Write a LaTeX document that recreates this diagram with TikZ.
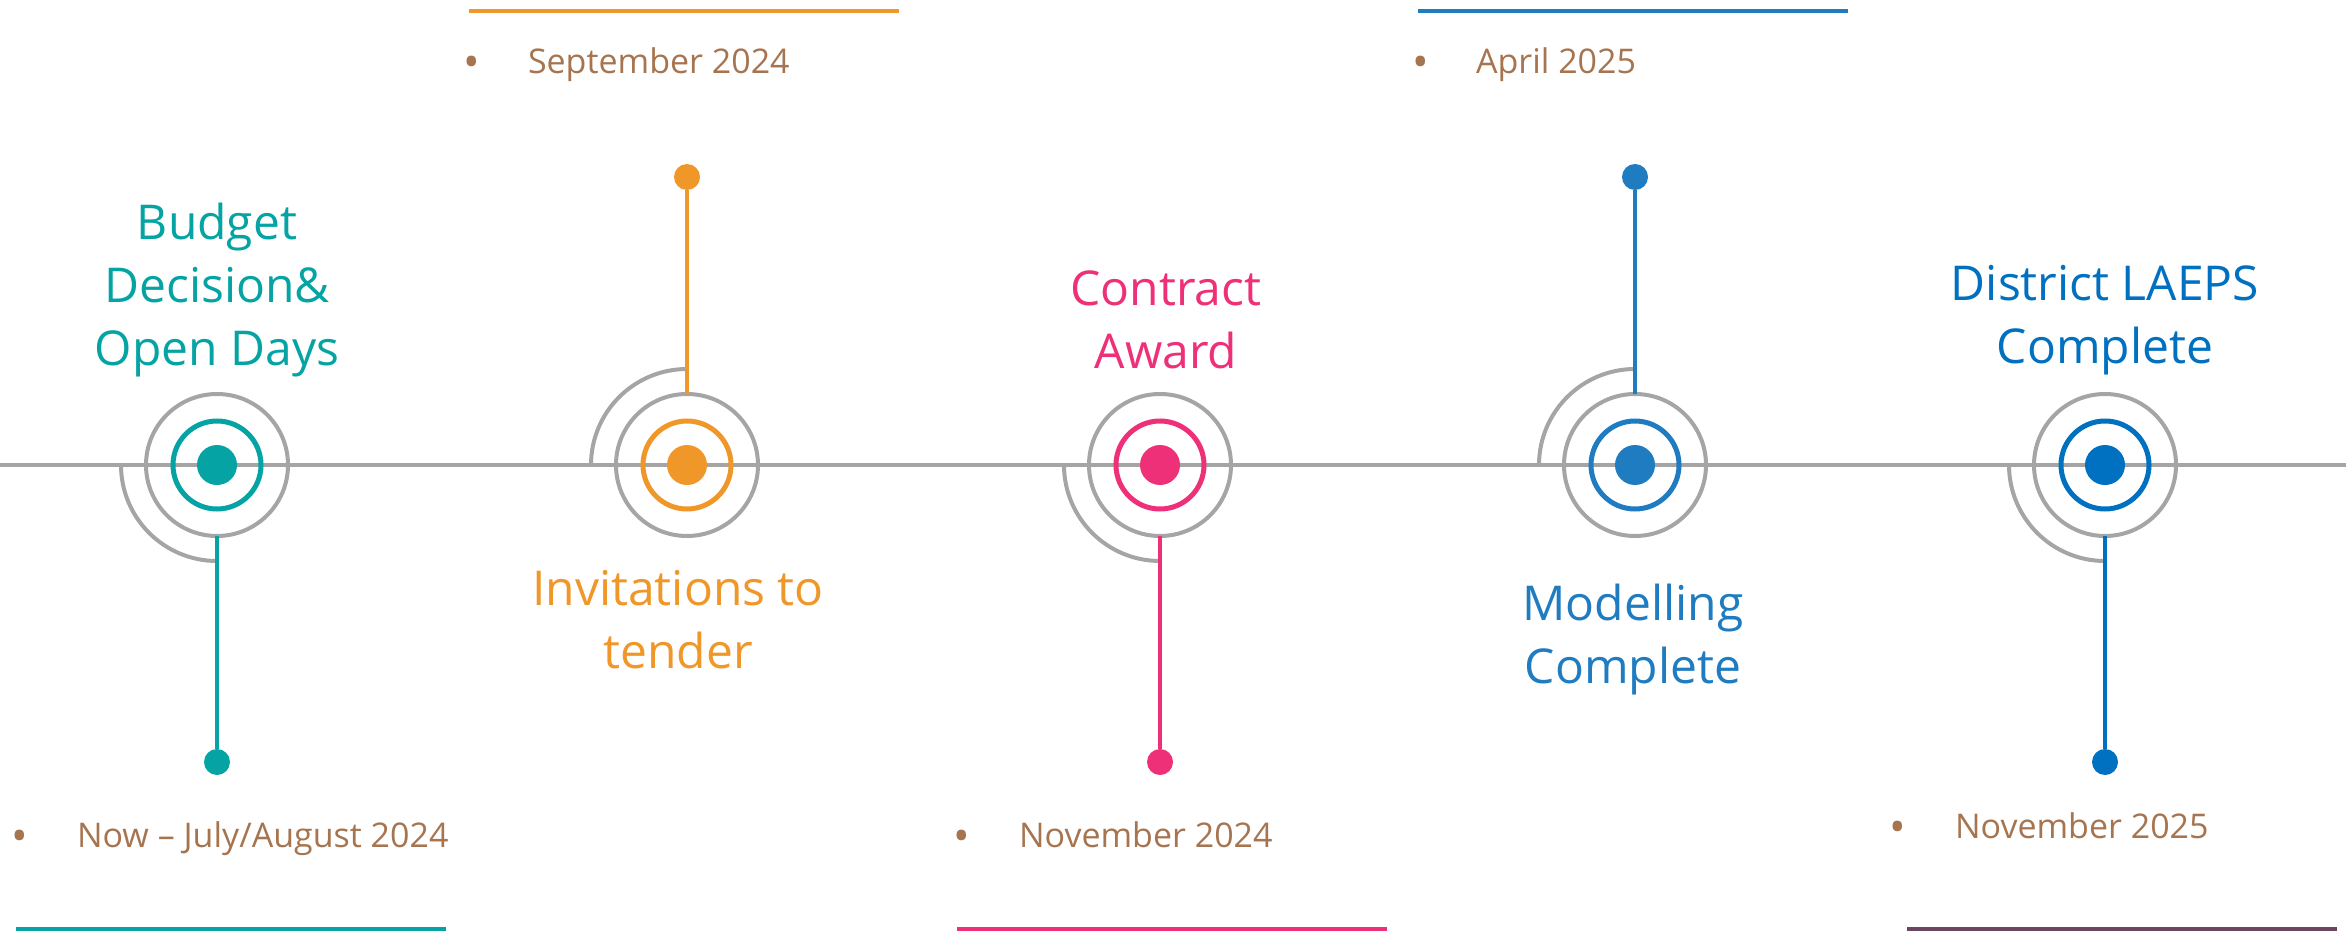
\documentclass[tikz,border=0pt]{standalone}
\usepackage{fontspec}
\setmainfont{Open Sans}

\definecolor{railgray}{HTML}{A5A5A5}
\definecolor{tealA}{HTML}{05A3A4}
\definecolor{orangeA}{HTML}{F0972A}
\definecolor{pinkA}{HTML}{EE3078}
\definecolor{blueA}{HTML}{1F7CC1}
\definecolor{blueB}{HTML}{0070C0}
\definecolor{datebrown}{HTML}{A67550}
\definecolor{plumA}{HTML}{6B4660}

\tikzset{every picture/.style={line width=2pt}}
\tikzset{
  halo/.style={circle, draw=railgray, line width=2pt, minimum size=71pt, inner sep=0pt, outer sep=0pt},
  ring/.style={circle, draw=#1, line width=2.5pt, minimum size=44pt, inner sep=0pt},
  hub/.style={circle, fill=#1, minimum size=20pt, inner sep=0pt},
  tipdot/.style={circle, fill=#1, minimum size=13pt, inner sep=0pt, outer sep=0pt},
  title/.style={align=center, anchor=base, text=#1, font=\fontsize{24}{31.5}\selectfont},
  datetext/.style={anchor=base west, inner sep=0pt, text=datebrown, font=\fontsize{17}{20}\selectfont},
  bulletmark/.style={anchor=base, inner sep=0pt, text=datebrown, font=\fontsize{22}{24}\selectfont},
}

\begin{document}
\begin{tikzpicture}[x=0.5pt,y=0.5pt,yscale=-1,xscale=1]
\useasboundingbox (0,0) rectangle (2346,931);

% Rail
\coordinate (railL) at (0,465);
\coordinate (railR) at (2346,465);
\draw [railgray]   (railL) -- (railR) ;

% Milestone 1
\node [hub=tealA] (m1) at (217,465) {};
\node [ring=tealA] (r1) at (m1) {};
\node [halo] (h1) at (m1) {};
\draw [railgray]   (m1) ++(-96,0) arc [start angle=180, end angle=90, radius=96] ;
\node [tipdot=tealA] (e1) at (217,762) {};
\draw [tealA]   (h1) -- (e1) ;
\node [title=tealA] (t1) at (217,365) {Budget\\Decision\&\\Open Days};
\node [bulletmark] (b1) at (20,851) {•};
\node [datetext] (d1) at (75,847) {Now – July/August 2024};
\draw [tealA]   (16,929) -- (446,929) ;

% Milestone 2
\node [hub=orangeA] (m2) at (687,465) {};
\node [ring=orangeA] (r2) at (m2) {};
\node [halo] (h2) at (m2) {};
\draw [railgray]   (m2) ++(-96,0) arc [start angle=180, end angle=270, radius=96] ;
\node [tipdot=orangeA] (e2) at (687,177) {};
\draw [orangeA]   (h2) -- (e2) ;
\node [title=orangeA] (t2) at (678,668) {Invitations to\\tender};
\node [bulletmark] (b2) at (472,78) {•};
\node [datetext] (d2) at (526,74) {September 2024};
\draw [orangeA]   (469,11) -- (899,11) ;

% Milestone 3
\node [hub=pinkA] (m3) at (1160,465) {};
\node [ring=pinkA] (r3) at (m3) {};
\node [halo] (h3) at (m3) {};
\draw [railgray]   (m3) ++(-96,0) arc [start angle=180, end angle=90, radius=96] ;
\node [tipdot=pinkA] (e3) at (1160,762) {};
\draw [pinkA]   (h3) -- (e3) ;
\node [title=pinkA] (t3) at (1166,368) {Contract\\Award};
\node [bulletmark] (b3) at (962,851) {•};
\node [datetext] (d3) at (1017,847) {November 2024};
\draw [pinkA]   (957,929) -- (1387,929) ;

% Milestone 4
\node [hub=blueA] (m4) at (1635,465) {};
\node [ring=blueA] (r4) at (m4) {};
\node [halo] (h4) at (m4) {};
\draw [railgray]   (m4) ++(-96,0) arc [start angle=180, end angle=270, radius=96] ;
\node [tipdot=blueA] (e4) at (1635,177) {};
\draw [blueA]   (h4) -- (e4) ;
\node [title=blueA] (t4) at (1633,683) {Modelling\\Complete};
\node [bulletmark] (b4) at (1421,78) {•};
\node [datetext] (d4) at (1474,74) {April 2025};
\draw [blueA]   (1418,11) -- (1848,11) ;

% Milestone 5
\node [hub=blueB] (m5) at (2105,465) {};
\node [ring=blueB] (r5) at (m5) {};
\node [halo] (h5) at (m5) {};
\draw [railgray]   (m5) ++(-96,0) arc [start angle=180, end angle=90, radius=96] ;
\node [tipdot=blueB] (e5) at (2105,762) {};
\draw [blueB]   (h5) -- (e5) ;
\node [title=blueB] (t5) at (2105,363) {District LAEPS\\Complete};
\node [bulletmark] (b5) at (1898,842) {•};
\node [datetext] (d5) at (1953,838) {November 2025};
\draw [plumA]   (1907,929) -- (2337,929) ;

\end{tikzpicture}
\end{document}
